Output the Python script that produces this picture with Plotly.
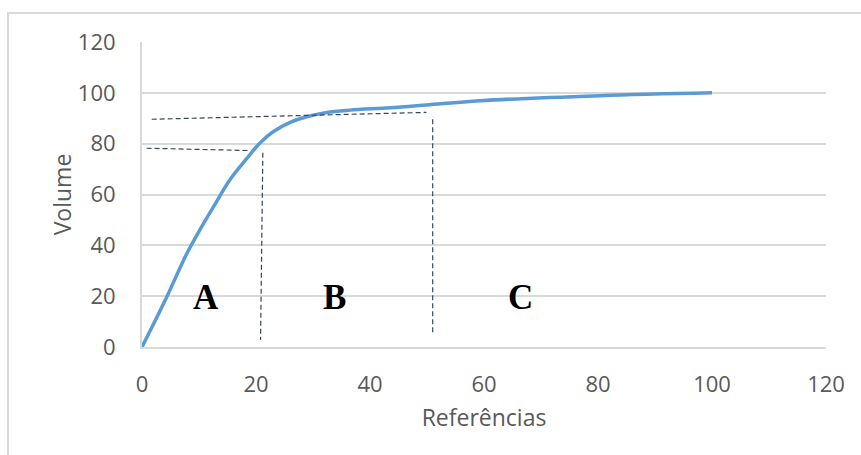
import plotly.graph_objects as go

# Cumulative ABC curve (Referências vs Volume)
ref_x = [0, 4.3, 7.8, 10.2, 12.5, 15.4, 18.4, 20.7, 23.0, 26.0, 28.9, 32.4, 36.5, 43.5, 49.9, 59.3, 80.4, 100]
vol_y = [0, 19.5, 36.5, 46.3, 55.0, 65.7, 74.2, 80.3, 84.7, 88.4, 90.6, 92.3, 93.2, 94.1, 95.2, 96.9, 98.9, 100]

# Guide lines separating the A / B / C classes
guide_a_h_x = [0.8, 18.9]
guide_a_h_y = [78.2, 77.3]
guide_b_h_x = [1.7, 49.9]
guide_b_h_y = [89.6, 92.3]
guide_a_v_x = [21.2, 20.8]
guide_a_v_y = [76.4, 2.8]
guide_b_v_x = [51.0, 51.0]
guide_b_v_y = [89.6, 4.7]

class_labels = ["A", "B", "C"]
class_x = [11.2, 33.7, 66.4]
class_y = [19.5, 19.5, 19.5]

tick_vals = [0, 20, 40, 60, 80, 100, 120]

W, H = 861, 455
L, R, T, B = 142, 35, 42, 108

fig = go.Figure()

fig.add_trace(go.Scatter(
    x=ref_x, y=vol_y, mode="lines",
    line=dict(color="#5B9BD5", width=3.5, shape="spline", smoothing=1.0),
    hoverinfo="skip", showlegend=False,
))

guide_style = dict(color="#3A475A", width=1.2, dash="5px,3px")
for gx, gy in [(guide_a_h_x, guide_a_h_y), (guide_b_h_x, guide_b_h_y),
               (guide_a_v_x, guide_a_v_y), (guide_b_v_x, guide_b_v_y)]:
    fig.add_trace(go.Scatter(x=gx, y=gy, mode="lines", line=guide_style,
                             hoverinfo="skip", showlegend=False))

for lab, lx, ly in zip(class_labels, class_x, class_y):
    fig.add_annotation(x=lx, y=ly, text=f"<b>{lab}</b>", showarrow=False,
                       xanchor="center", yanchor="middle",
                       font=dict(family="Liberation Serif", size=35, color="#000000"))

# Outer chart border (frame around the whole chart area)
pw, ph = W - L - R, H - T - B
def px_to_paper_x(px):
    return (px - L) / pw
def px_to_paper_y(py):
    return (H - B - py) / ph

fig.add_shape(type="rect", xref="paper", yref="paper",
              x0=px_to_paper_x(8), x1=px_to_paper_x(W + 20),
              y0=px_to_paper_y(H + 20), y1=px_to_paper_y(13),
              line=dict(color="#D9D9D9", width=2), fillcolor="rgba(0,0,0,0)",
              layer="below")

font_tick = dict(family="Open Sans", size=22, color="#595959")
font_title = dict(family="Open Sans", size=23, color="#595959")

fig.update_xaxes(
    range=[0, 120], tickvals=tick_vals, ticktext=[str(v) for v in tick_vals],
    showgrid=False, zeroline=False, showline=True, linecolor="#D9D9D9", linewidth=2,
    tickfont=font_tick, ticks="", ticklabelstandoff=17,
    title=dict(text="Referências", font=font_title, standoff=12),
)
fig.update_yaxes(
    range=[0, 120], tickvals=tick_vals, ticktext=[str(v) for v in tick_vals],
    showgrid=True, gridcolor="#D9D9D9", gridwidth=1.5, zeroline=False,
    showline=True, linecolor="#D9D9D9", linewidth=2,
    tickfont=font_tick, ticks="", ticklabelstandoff=20,
    title=dict(text="Volume", font=font_title, standoff=0),
)

fig.update_layout(
    width=W, height=H,
    margin=dict(l=L, r=R, t=T, b=B),
    paper_bgcolor="white", plot_bgcolor="white",
    showlegend=False,
)

fig.write_html("out.html")
